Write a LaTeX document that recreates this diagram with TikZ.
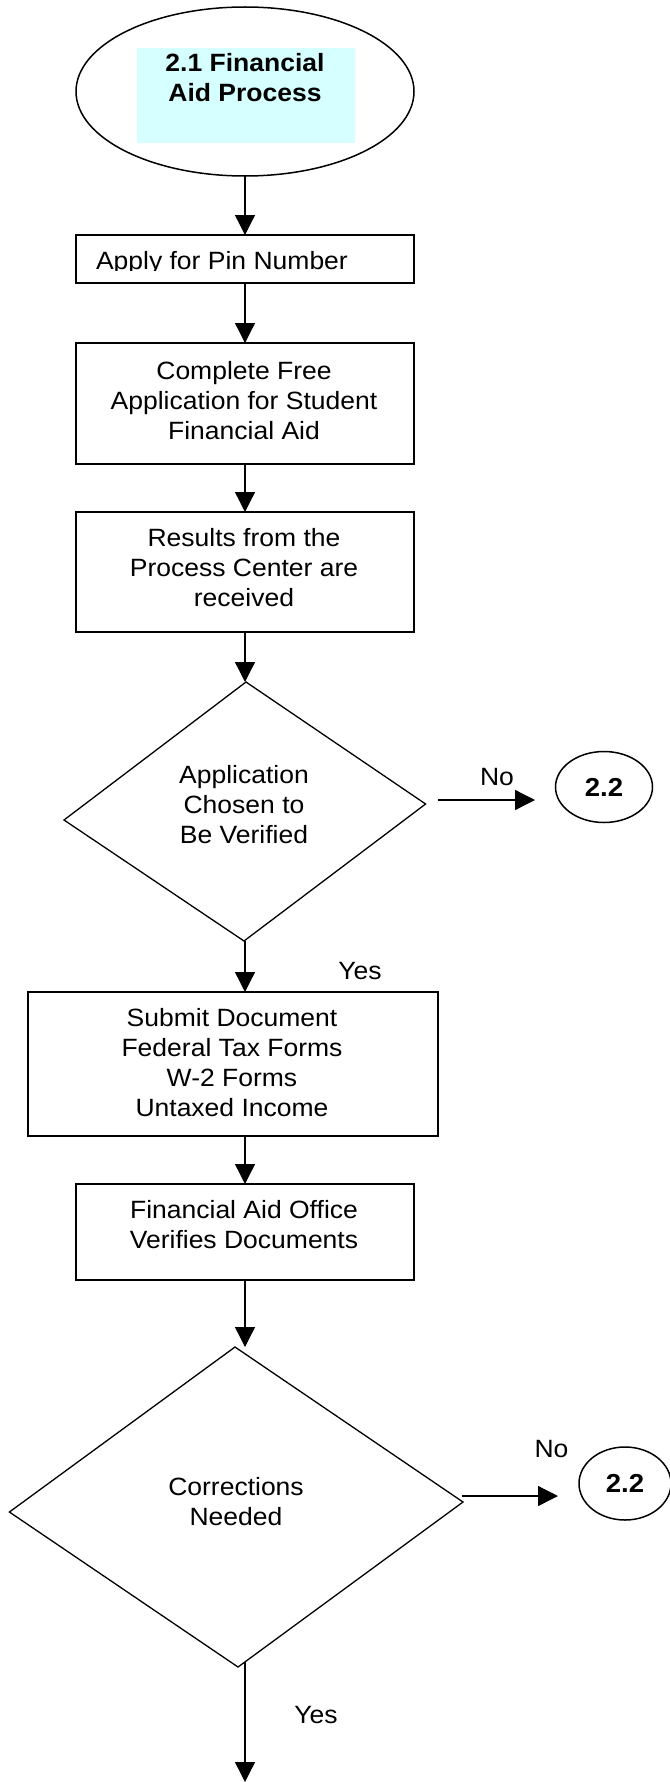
\documentclass[tikz,border=0pt]{standalone}
\usepackage{fontspec}
\setmainfont{Liberation Sans}[FakeStretch=1.06]
\usetikzlibrary{arrows.meta,shapes.geometric}
\definecolor{titlecyan}{RGB}{214,255,255}

\begin{document}
\begin{tikzpicture}[x=1pt,y=-1pt,
  every node/.style={font=\fontsize{25}{30}\selectfont, inner sep=0pt, outer sep=0pt},
  stepbox/.style={draw, rectangle, line width=2pt},
  txt/.style={align=center},
  flow/.style={line width=1.3pt, -{Triangle[width=20pt,length=20pt]}},
  decision/.style={line width=1.3pt, line join=miter},
  terminal/.style={draw, ellipse, line width=1.5pt},
  connector/.style={draw, ellipse, line width=1.5pt,
    font=\fontsize{26}{30}\selectfont\bfseries}
]
\useasboundingbox (0,0) rectangle (669,1782);

% start terminal
\node[terminal, minimum width=338pt, minimum height=169pt] (start) at (245,91.5) {};
\node[fill=titlecyan, minimum width=218pt, minimum height=95pt] (titlebg) at (246,95.5) {};
\node[txt, font=\fontsize{25}{30}\selectfont\bfseries] (title) at (245,78) {2.1 Financial\\Aid Process};

% process steps
\node[stepbox, minimum width=338pt, minimum height=48pt] (pin) at (245,259) {};
\begin{scope}
  \clip (76,235) rectangle (414,270.5);
  \node[anchor=base west] (pintext) at (96,269) {Apply for Pin Number};
\end{scope}

\node[stepbox, minimum width=338pt, minimum height=121pt] (fafsa) at (245,403.5) {};
\node[txt] (fafsatext) at (244,400.5) {Complete Free\\Application for Student\\Financial Aid};

\node[stepbox, minimum width=338pt, minimum height=120pt] (results) at (245,572) {};
\node[txt] (resultstext) at (244,568) {Results from the\\Process Center are\\received};

% first decision
\coordinate (d1t) at (246,682);
\coordinate (d1r) at (425.6,804);
\coordinate (d1b) at (244,941);
\coordinate (d1l) at (64,820);
\draw[decision] (d1t) -- (d1r) -- (d1b) -- (d1l) -- cycle;
\node[txt] (d1text) at (244,805) {Application\\Chosen to\\Be Verified};

\node[connector, minimum width=97pt, minimum height=71pt] (c1) at (604,787) {2.2};
\coordinate (no1a) at (438,800);
\coordinate (no1b) at (535,800);
\node (no1) at (497,777) {No};
\node (yes1) at (360,971) {Yes};

\node[stepbox, minimum width=410pt, minimum height=144pt] (submit) at (233,1064) {};
\node[txt] (submittext) at (232,1063) {Submit Document\\Federal Tax Forms\\W-2 Forms\\Untaxed Income};

\node[stepbox, minimum width=338pt, minimum height=96pt] (verify) at (245,1232) {};
\node[txt] (verifytext) at (244,1224.5) {Financial Aid Office\\Verifies Documents};

% second decision
\coordinate (d2t) at (235,1347);
\coordinate (d2r) at (463,1502);
\coordinate (d2b) at (238,1667);
\coordinate (d2l) at (9.4,1512);
\draw[decision] (d2t) -- (d2r) -- (d2b) -- (d2l) -- cycle;
\node[txt] (d2text) at (236,1502) {Corrections\\Needed};

\node[connector, minimum width=92pt, minimum height=73pt] (c2) at (625,1483.5) {2.2};
\coordinate (no2a) at (462,1496);
\coordinate (no2b) at (558,1496);
\node (no2) at (551.5,1449) {No};
\node (yes2) at (316,1715) {Yes};

\coordinate (d2out) at (245,1662);
\coordinate (next) at (245,1782);

% connectors
\draw[flow] (start.south) -- (pin.north);
\draw[flow] (pin.south) -- (fafsa.north);
\draw[flow] (fafsa.south) -- (results.north);
\draw[flow] (results.south) -- (results.south |- d1t);
\draw[flow] (no1a) -- (no1b);
\draw[flow] (d1b -| verify.north) -- (verify.north |- submit.north);
\draw[flow] (verify.north |- submit.south) -- (verify.north);
\draw[flow] (verify.south) -- (verify.south |- d2t);
\draw[flow] (no2a) -- (no2b);
\draw[flow] (d2out) -- (next);
\end{tikzpicture}
\end{document}
